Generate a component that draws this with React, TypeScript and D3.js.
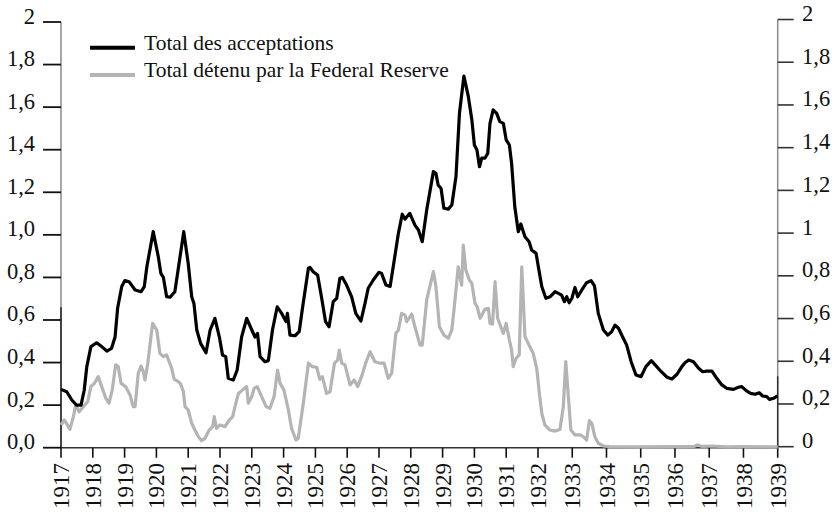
import React from "react";
import * as d3 from "d3";

// ---- Data (x = decimal year, y = value) ----
const ACCEPTATIONS: [number, number][] = [
  [1917.0, 0.274], [1917.18, 0.263], [1917.34, 0.224], [1917.49, 0.2], [1917.63, 0.2],
  [1917.73, 0.27], [1917.81, 0.38], [1917.94, 0.475], [1918.12, 0.493], [1918.28, 0.475],
  [1918.44, 0.454], [1918.59, 0.467], [1918.7, 0.52], [1918.78, 0.655], [1918.91, 0.757],
  [1919.01, 0.785], [1919.14, 0.78], [1919.33, 0.741], [1919.52, 0.733], [1919.62, 0.757],
  [1919.7, 0.85], [1919.9, 1.015], [1920.06, 0.897], [1920.14, 0.819], [1920.22, 0.8],
  [1920.32, 0.71], [1920.43, 0.707], [1920.58, 0.733], [1920.69, 0.843], [1920.86, 1.015],
  [1921.0, 0.866], [1921.11, 0.709], [1921.18, 0.678], [1921.27, 0.553], [1921.39, 0.49],
  [1921.56, 0.446], [1921.69, 0.553], [1921.84, 0.608], [1921.98, 0.52], [1922.08, 0.435],
  [1922.18, 0.428], [1922.26, 0.326], [1922.42, 0.318], [1922.54, 0.365], [1922.68, 0.52],
  [1922.84, 0.608], [1923.0, 0.553], [1923.1, 0.52], [1923.18, 0.537], [1923.26, 0.428],
  [1923.41, 0.404], [1923.52, 0.409], [1923.65, 0.553], [1923.8, 0.662], [1923.94, 0.631],
  [1924.08, 0.592], [1924.12, 0.631], [1924.2, 0.529], [1924.36, 0.526], [1924.49, 0.545],
  [1924.6, 0.662], [1924.78, 0.843], [1924.83, 0.847], [1924.93, 0.827], [1925.07, 0.811],
  [1925.19, 0.709], [1925.32, 0.592], [1925.43, 0.568], [1925.56, 0.686], [1925.67, 0.702],
  [1925.77, 0.796], [1925.85, 0.8], [1925.98, 0.764], [1926.14, 0.709], [1926.27, 0.631],
  [1926.43, 0.595], [1926.56, 0.678], [1926.66, 0.749], [1926.82, 0.788], [1927.0, 0.824],
  [1927.08, 0.819], [1927.22, 0.764], [1927.35, 0.757], [1927.48, 0.882], [1927.61, 1.007],
  [1927.73, 1.097], [1927.82, 1.074], [1927.97, 1.101], [1928.13, 1.046], [1928.24, 1.023],
  [1928.36, 0.968], [1928.5, 1.117], [1928.71, 1.297], [1928.79, 1.289], [1928.86, 1.234],
  [1928.95, 1.219], [1929.04, 1.125], [1929.18, 1.121], [1929.29, 1.14], [1929.42, 1.273],
  [1929.53, 1.571], [1929.67, 1.746], [1929.81, 1.649], [1929.92, 1.54], [1930.0, 1.422],
  [1930.08, 1.399], [1930.16, 1.32], [1930.23, 1.36], [1930.33, 1.36], [1930.42, 1.383],
  [1930.49, 1.524], [1930.59, 1.587], [1930.7, 1.571], [1930.8, 1.532], [1930.91, 1.524],
  [1931.0, 1.446], [1931.1, 1.422], [1931.17, 1.336], [1931.27, 1.132], [1931.38, 1.015],
  [1931.46, 1.051], [1931.59, 0.991], [1931.72, 0.968], [1931.8, 0.929], [1931.94, 0.913],
  [1932.01, 0.85], [1932.11, 0.757], [1932.23, 0.702], [1932.35, 0.709], [1932.5, 0.733],
  [1932.69, 0.717], [1932.77, 0.686], [1932.84, 0.709], [1932.91, 0.681], [1932.99, 0.702],
  [1933.08, 0.753], [1933.16, 0.709], [1933.28, 0.741], [1933.42, 0.775], [1933.55, 0.785],
  [1933.65, 0.76], [1933.76, 0.631], [1933.91, 0.553], [1934.04, 0.529], [1934.15, 0.545],
  [1934.25, 0.576], [1934.35, 0.561], [1934.49, 0.514], [1934.59, 0.482], [1934.72, 0.404],
  [1934.86, 0.342], [1935.01, 0.334], [1935.15, 0.381], [1935.31, 0.409], [1935.42, 0.389],
  [1935.6, 0.357], [1935.77, 0.331], [1935.91, 0.323], [1936.06, 0.345], [1936.2, 0.381],
  [1936.3, 0.4], [1936.4, 0.412], [1936.54, 0.404], [1936.69, 0.373], [1936.81, 0.357],
  [1936.93, 0.36], [1937.08, 0.36], [1937.22, 0.326], [1937.37, 0.295], [1937.51, 0.279],
  [1937.71, 0.274], [1937.85, 0.284], [1937.95, 0.287], [1938.08, 0.268], [1938.21, 0.255],
  [1938.34, 0.251], [1938.46, 0.258], [1938.56, 0.243], [1938.68, 0.24], [1938.76, 0.227],
  [1938.88, 0.232], [1938.99, 0.243],
];

const FED_RESERVE: [number, number][] = [
  [1917.0, 0.107], [1917.1, 0.13], [1917.17, 0.115], [1917.28, 0.086], [1917.39, 0.146],
  [1917.46, 0.2], [1917.57, 0.169], [1917.7, 0.193], [1917.84, 0.216], [1917.94, 0.287],
  [1918.05, 0.302], [1918.17, 0.334], [1918.28, 0.287], [1918.41, 0.232], [1918.51, 0.209],
  [1918.61, 0.271], [1918.72, 0.389], [1918.8, 0.381], [1918.89, 0.302], [1919.03, 0.287],
  [1919.17, 0.248], [1919.27, 0.193], [1919.33, 0.193], [1919.43, 0.35], [1919.52, 0.384],
  [1919.59, 0.357], [1919.64, 0.318], [1919.73, 0.397], [1919.88, 0.584], [1920.01, 0.553],
  [1920.11, 0.443], [1920.22, 0.428], [1920.32, 0.436], [1920.48, 0.373], [1920.56, 0.321],
  [1920.69, 0.31], [1920.76, 0.3], [1920.85, 0.263], [1920.9, 0.193], [1921.0, 0.177],
  [1921.11, 0.115], [1921.21, 0.083], [1921.32, 0.052], [1921.42, 0.033], [1921.53, 0.044],
  [1921.66, 0.083], [1921.77, 0.099], [1921.82, 0.146], [1921.89, 0.091], [1922.0, 0.107],
  [1922.16, 0.099], [1922.29, 0.13], [1922.4, 0.146], [1922.47, 0.193], [1922.58, 0.255],
  [1922.73, 0.274], [1922.84, 0.287], [1922.89, 0.209], [1923.0, 0.24], [1923.07, 0.279],
  [1923.17, 0.287], [1923.31, 0.24], [1923.45, 0.193], [1923.57, 0.185], [1923.7, 0.24],
  [1923.81, 0.365], [1923.89, 0.302], [1924.01, 0.271], [1924.15, 0.177], [1924.25, 0.091],
  [1924.39, 0.036], [1924.46, 0.044], [1924.62, 0.209], [1924.78, 0.397], [1924.9, 0.381],
  [1925.04, 0.378], [1925.14, 0.321], [1925.22, 0.334], [1925.35, 0.255], [1925.46, 0.263],
  [1925.6, 0.397], [1925.7, 0.412], [1925.75, 0.459], [1925.83, 0.397], [1925.93, 0.389],
  [1926.09, 0.295], [1926.22, 0.318], [1926.33, 0.287], [1926.47, 0.342], [1926.58, 0.397],
  [1926.72, 0.451], [1926.87, 0.404], [1927.03, 0.397], [1927.16, 0.397], [1927.29, 0.326],
  [1927.4, 0.35], [1927.53, 0.537], [1927.61, 0.553], [1927.71, 0.631], [1927.82, 0.623],
  [1927.87, 0.592], [1928.03, 0.628], [1928.13, 0.568], [1928.29, 0.482], [1928.36, 0.482],
  [1928.5, 0.694], [1928.71, 0.827], [1928.79, 0.757], [1928.9, 0.568], [1929.04, 0.529],
  [1929.18, 0.514], [1929.29, 0.553], [1929.39, 0.694], [1929.49, 0.85], [1929.6, 0.764],
  [1929.65, 0.952], [1929.73, 0.835], [1929.84, 0.788], [1929.92, 0.772], [1930.02, 0.678],
  [1930.09, 0.662], [1930.18, 0.608], [1930.33, 0.65], [1930.44, 0.655], [1930.49, 0.584],
  [1930.57, 0.581], [1930.65, 0.78], [1930.73, 0.608], [1930.83, 0.568], [1930.91, 0.537],
  [1931.0, 0.584], [1931.1, 0.506], [1931.17, 0.459], [1931.22, 0.381], [1931.31, 0.42],
  [1931.41, 0.436], [1931.49, 0.85], [1931.59, 0.522], [1931.72, 0.482], [1931.85, 0.443],
  [1931.96, 0.373], [1932.04, 0.255], [1932.11, 0.162], [1932.2, 0.107], [1932.35, 0.083],
  [1932.5, 0.078], [1932.64, 0.086], [1932.74, 0.193], [1932.81, 0.404], [1932.88, 0.255],
  [1932.96, 0.083], [1933.08, 0.06], [1933.23, 0.06], [1933.32, 0.052], [1933.42, 0.036],
  [1933.5, 0.127], [1933.57, 0.115], [1933.66, 0.052], [1933.76, 0.021], [1933.91, 0.008],
  [1934.1, 0.005], [1935.0, 0.004], [1936.0, 0.005], [1936.55, 0.006], [1936.65, 0.013],
  [1936.8, 0.006], [1937.1, 0.008], [1937.5, 0.004], [1938.0, 0.005], [1939.0, 0.004],
];

const YEARS: number[] = d3.range(1917, 1940);
const Y_TICKS: number[] = [0, 0.2, 0.4, 0.6, 0.8, 1.0, 1.2, 1.4, 1.6, 1.8, 2];
const LEFT_LABELS: string[] = ["0,0", "0,2", "0,4", "0,6", "0,8", "1,0", "1,2", "1,4", "1,6", "1,8", "2"];
const RIGHT_LABELS: string[] = ["0", "0,2", "0,4", "0,6", "0,8", "1", "1,2", "1,4", "1,6", "1,8", "2"];
const SERIES_NAMES: string[] = ["Total des acceptations", "Total détenu par la Federal Reserve"];
const SERIES_COLORS: string[] = ["#000000", "#b4b4b4"];

const W = 836;
const H = 516;
const FONT = "'Liberation Serif', 'Times New Roman', serif";

export default function App() {
  // x axis: category-like axis, slightly wider spacing after 1932
  const x = d3.scaleLinear().domain([1917, 1932, 1939]).range([61, 538, 777.7]);
  const yL = d3.scaleLinear().domain([0, 2]).range([447.7, 22]);
  const yR = d3.scaleLinear().domain([0, 2]).range([446.7, 19.5]);

  const line = d3
    .line<[number, number]>()
    .x((d) => x(d[0]))
    .y((d) => yL(d[1]))
    .curve(d3.curveLinear);

  const x0 = x(1917);
  const x1 = x(1939);

  return (
    <div style={{ position: "absolute", left: 0, top: 0 }}>
      <svg width={W} height={H} style={{ display: "block", background: "#fff" }} fontFamily={FONT}>
        {/* left axis */}
        <line x1={x0} x2={x0} y1={yL(2)} y2={yL(0)} stroke="#8a8a8a" strokeWidth={1.5} />
        <line x1={x0} x2={x0} y1={yL(0.66)} y2={yL(0)} stroke="#222" strokeWidth={1.5} />
        {Y_TICKS.map((t, i) => (
          <g key={"l" + i}>
            <line x1={x0 - 18} x2={x0} y1={yL(t)} y2={yL(t)} stroke="#111" strokeWidth={1.8} />
            <text x={35} y={yL(t) + 1.5} textAnchor="end" fontSize={22.5} fill="#111">
              {LEFT_LABELS[i]}
            </text>
          </g>
        ))}
        {/* right axis */}
        <line x1={x1} x2={x1} y1={yR(2)} y2={yR(0)} stroke="#8a8a8a" strokeWidth={1.5} />
        <line x1={x1} x2={x1} y1={yR(0.33)} y2={yR(0)} stroke="#333" strokeWidth={1.5} />
        {Y_TICKS.map((t, i) => (
          <g key={"r" + i}>
            <line x1={x1} x2={x1 + 16} y1={yR(t)} y2={yR(t)} stroke="#333" strokeWidth={1.6} />
            <text x={802} y={yR(t) + 1.5} textAnchor="start" fontSize={22.5} fill="#111">
              {RIGHT_LABELS[i]}
            </text>
          </g>
        ))}
        {/* x axis */}
        <line x1={x0} x2={x1} y1={yL(0)} y2={yL(0)} stroke="#333" strokeWidth={1.6} />
        {YEARS.map((yr) => (
          <g key={yr}>
            <line x1={x(yr)} x2={x(yr)} y1={yL(0)} y2={yL(0) + 10} stroke="#111" strokeWidth={1.6} />
            <text
              transform={`translate(${x(yr)},${463}) rotate(-90)`}
              textAnchor="end"
              dy="0.35em"
              fontSize={23}
              fill="#111"
            >
              {yr}
            </text>
          </g>
        ))}
        {/* series */}
        <path d={line(FED_RESERVE) || ""} fill="none" stroke={SERIES_COLORS[1]} strokeWidth={3.2} strokeLinejoin="round" />
        <path d={line(ACCEPTATIONS) || ""} fill="none" stroke={SERIES_COLORS[0]} strokeWidth={3.2} strokeLinejoin="round" />
        {/* legend */}
        {SERIES_NAMES.map((name, i) => (
          <g key={name}>
            <line x1={90} x2={135} y1={47.7 + i * 27.3} y2={47.7 + i * 27.3} stroke={SERIES_COLORS[i]} strokeWidth={4} />
            <text x={144} y={49.5 + i * 27.3} fontSize={21.5} fill="#111">
              {name}
            </text>
          </g>
        ))}
      </svg>
    </div>
  );
}
